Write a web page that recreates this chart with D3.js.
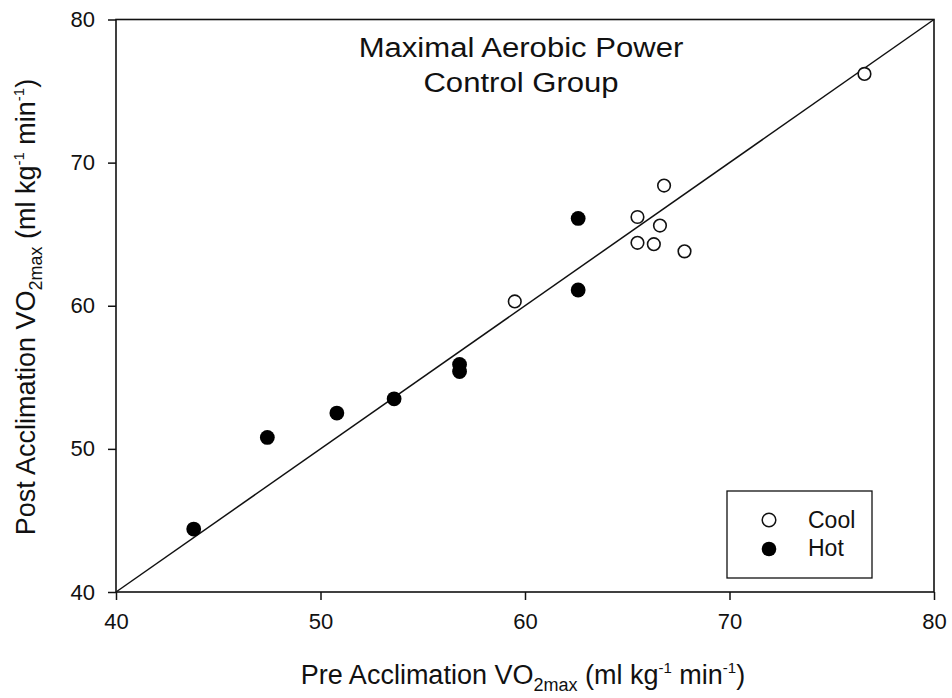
<!doctype html>
<html>
  <head>
    <script src="https://cdn.jsdelivr.net/npm/d3@7"></script>
    <style>
      body { margin: 0; background: #fff; }
      text { font-family: "Liberation Sans", Arial, sans-serif; fill: #111; }
    </style>
  </head>
  <body>
    <svg id="chart" width="952" height="698"></svg>

    <script>
      // values
      var coolPre  = [59.5, 66.8, 65.5, 66.6, 65.5, 66.3, 67.8, 76.6];
      var coolPost = [60.3, 68.4, 66.2, 65.6, 64.4, 64.3, 63.8, 76.2];
      var hotPre   = [43.8, 47.4, 50.8, 53.6, 56.8, 56.8, 62.6, 62.6];
      var hotPost  = [44.4, 50.8, 52.5, 53.5, 55.9, 55.4, 66.1, 61.1];
      var tickVals = [40, 50, 60, 70, 80];
      var identity = [40, 80];

      var svg = d3.select("#chart");
      var pLeft = 116, pRight = 934, pTop = 19.5, pBottom = 592;

      var x = d3.scaleLinear().domain([40, 80]).range([pLeft, pRight]);
      var y = d3.scaleLinear().domain([40, 80]).range([pBottom, pTop]);

      // frame
      svg.append("rect")
        .attr("x", pLeft).attr("y", pTop)
        .attr("width", pRight - pLeft).attr("height", pBottom - pTop)
        .attr("fill", "none").attr("stroke", "#111").attr("stroke-width", 1.6);

      var xAxis = svg.append("g")
        .attr("transform", "translate(0," + pBottom + ")")
        .call(d3.axisBottom(x).tickValues(tickVals).tickSize(8).tickPadding(13));
      var yAxis = svg.append("g")
        .attr("transform", "translate(" + pLeft + ",0)")
        .call(d3.axisLeft(y).tickValues(tickVals).tickSize(8).tickPadding(13));
      [xAxis, yAxis].forEach(function(g) {
        g.select(".domain").remove();
        g.selectAll(".tick line").attr("stroke", "#111").attr("stroke-width", 1.5);
        g.selectAll(".tick text").attr("font-size", 22)
          .attr("font-family", "Liberation Sans, Arial, sans-serif").attr("fill", "#111");
      });

      // line of identity
      svg.append("line")
        .attr("x1", x(identity[0])).attr("y1", y(identity[0]))
        .attr("x2", x(identity[1])).attr("y2", y(identity[1]))
        .attr("stroke", "#111").attr("stroke-width", 1.5);

      // points
      svg.selectAll(".cool")
        .data(d3.zip(coolPre, coolPost))
        .enter().append("circle")
          .attr("class", "cool")
          .attr("cx", function(d) { return x(d[0]); })
          .attr("cy", function(d) { return y(d[1]); })
          .attr("r", 6.3)
          .attr("fill", "#fff").attr("stroke", "#111").attr("stroke-width", 1.6);

      svg.selectAll(".hot")
        .data(d3.zip(hotPre, hotPost))
        .enter().append("circle")
          .attr("class", "hot")
          .attr("cx", function(d) { return x(d[0]); })
          .attr("cy", function(d) { return y(d[1]); })
          .attr("r", 7.4)
          .attr("fill", "#000");

      // title (glyphs in the original are a bit wider than Arial)
      var title = svg.append("text")
        .attr("transform", "translate(521,0) scale(1.11,1)")
        .attr("text-anchor", "middle").attr("font-size", 28);
      title.append("tspan").attr("x", 0).attr("y", 57).text("Maximal Aerobic Power");
      title.append("tspan").attr("x", 0).attr("y", 92).text("Control Group");

      // legend
      svg.append("rect")
        .attr("x", 727).attr("y", 491).attr("width", 145).attr("height", 87)
        .attr("fill", "#fff").attr("stroke", "#111").attr("stroke-width", 1.3);
      svg.append("circle").attr("cx", 769).attr("cy", 520).attr("r", 6.8)
        .attr("fill", "#fff").attr("stroke", "#111").attr("stroke-width", 1.5);
      svg.append("circle").attr("cx", 769).attr("cy", 549).attr("r", 7.3)
        .attr("fill", "#000");
      svg.append("text").attr("x", 808).attr("y", 528).attr("font-size", 23).text("Cool");
      svg.append("text").attr("x", 808).attr("y", 556).attr("font-size", 23).text("Hot");

      // axis titles
      function axisTitle(sel, main) {
        sel.append("tspan").text(main + " VO");
        sel.append("tspan").attr("font-size", 18).attr("dy", 7).text("2max");
        sel.append("tspan").attr("dy", -7).text(" (ml kg");
        sel.append("tspan").attr("font-size", 15).attr("dy", -11).text("-1");
        sel.append("tspan").attr("dy", 11).text(" min");
        sel.append("tspan").attr("font-size", 15).attr("dy", -11).text("-1");
        sel.append("tspan").attr("dy", 11).text(")");
      }

      var xt = svg.append("text")
        .attr("x", 523).attr("y", 684).attr("text-anchor", "middle").attr("font-size", 27);
      axisTitle(xt, "Pre Acclimation");

      var yt = svg.append("text")
        .attr("transform", "translate(35,307) rotate(-90)")
        .attr("text-anchor", "middle").attr("font-size", 27);
      axisTitle(yt, "Post Acclimation");
    </script>
  </body>
</html>
